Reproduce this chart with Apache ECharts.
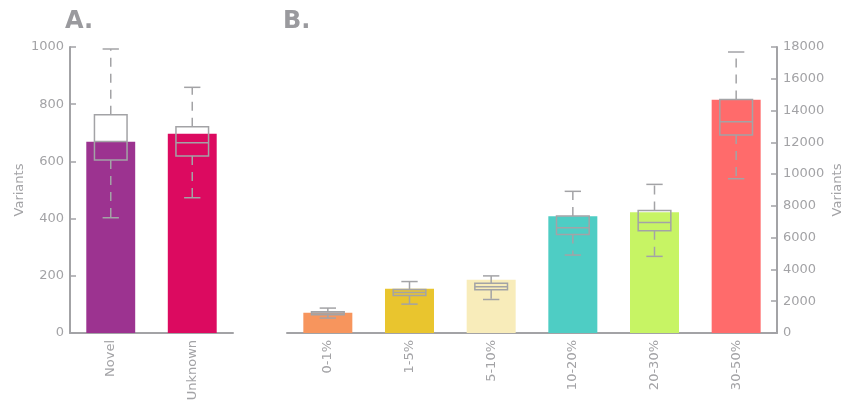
<!DOCTYPE html>
<html>
<head>
<meta charset="utf-8">
<script src="https://cdn.jsdelivr.net/npm/echarts@6/dist/echarts.min.js"></script>
<style>
  html, body { margin: 0; padding: 0; background: #fff; }
  #chart { width: 844px; height: 405px; }
</style>
</head>
<body>
<div id="chart"></div>
<script>
// Panel A: variant counts by annotation status
const categoriesA = ['Novel', 'Unknown'];
const barsA = [669, 697];
const colorsA = ['#9c3390', '#dc0a60'];
const minA = [403, 473];
const q1A = [605, 619];
const medianA = [670, 665];
const q3A = [763, 721];
const maxA = [993, 859];
const ticksA = { min: 0, max: 1000, interval: 200 };

// Panel B: variant counts by allele frequency bin
const categoriesB = ['0-1%', '1-5%', '5-10%', '10-20%', '20-30%', '30-50%'];
const barsB = [1275, 2780, 3345, 7350, 7600, 14680];
const colorsB = ['#f7955d', '#e9c52e', '#f8ecba', '#4ecdc4', '#c7f464', '#ff6b6b'];
const minB = [941, 1818, 2108, 4907, 4823, 9709];
const q1B = [1150, 2360, 2716, 6202, 6431, 12465];
const medianB = [1254, 2548, 2905, 6619, 6953, 13301];
const q3B = [1338, 2736, 3136, 7371, 7705, 14700];
const maxB = [1568, 3238, 3594, 8916, 9354, 17685];
const ticksB = { min: 0, max: 18000, interval: 2000 };

const GRAY = '#a3a3a6';
const FONT = 'DejaVu Sans';

function boxRows(mins, q1s, meds, q3s, maxs) {
  return mins.map((m, i) => [i, m, q1s[i], meds[i], q3s[i], maxs[i]]);
}

// Box with dashed whiskers and solid caps
function renderBox(params, api) {
  const idx = api.value(0);
  const pMin = api.coord([idx, api.value(1)]);
  const pQ1 = api.coord([idx, api.value(2)]);
  const pMed = api.coord([idx, api.value(3)]);
  const pQ3 = api.coord([idx, api.value(4)]);
  const pMax = api.coord([idx, api.value(5)]);
  const band = api.size([1, 0])[0];
  const hw = band * 0.2;
  const cw = band * 0.1;
  const x = pMed[0];
  const solid = { stroke: GRAY, lineWidth: 1.5, fill: null };
  const dashed = { stroke: GRAY, lineWidth: 1.5, lineDash: [9, 7] };
  return {
    type: 'group',
    children: [
      { type: 'line', shape: { x1: x, y1: pQ3[1], x2: x, y2: pMax[1] }, style: dashed },
      { type: 'line', shape: { x1: x, y1: pQ1[1], x2: x, y2: pMin[1] }, style: dashed },
      { type: 'line', shape: { x1: x - cw, y1: pMax[1], x2: x + cw, y2: pMax[1] }, style: solid },
      { type: 'line', shape: { x1: x - cw, y1: pMin[1], x2: x + cw, y2: pMin[1] }, style: solid },
      { type: 'rect', shape: { x: x - hw, y: pQ3[1], width: hw * 2, height: pQ1[1] - pQ3[1] }, style: solid },
      { type: 'line', shape: { x1: x - hw, y1: pMed[1], x2: x + hw, y2: pMed[1] }, style: solid }
    ]
  };
}

function catAxis(gridIndex, data) {
  return {
    type: 'category', gridIndex, data,
    axisLine: { lineStyle: { color: GRAY, width: 2 } },
    axisTick: { inside: true, length: 6, alignWithLabel: true, lineStyle: { color: GRAY, width: 1.5 } },
    axisLabel: { rotate: 90, color: GRAY, fontFamily: FONT, fontSize: 13, margin: 7 },
    splitLine: { show: false }
  };
}

function valAxis(gridIndex, ticks, position) {
  return {
    type: 'value', gridIndex, position,
    min: ticks.min, max: ticks.max, interval: ticks.interval,
    name: 'Variants', nameLocation: 'middle', nameGap: position === 'left' ? 44 : 54,
    nameMoveOverlap: false,
    nameTextStyle: { color: GRAY, fontFamily: FONT, fontSize: 13 },
    axisLine: { show: true, lineStyle: { color: GRAY, width: 2 } },
    axisTick: { show: true, inside: true, length: 6, lineStyle: { color: GRAY, width: 1.5 } },
    axisLabel: { color: GRAY, fontFamily: FONT, fontSize: 13, margin: 6, formatter: v => String(v) },
    splitLine: { show: false }
  };
}

const chart = echarts.init(document.getElementById('chart'), null, { renderer: 'canvas' });
chart.setOption({
  animation: false,
  backgroundColor: '#ffffff',
  title: [
    { text: 'A.', left: 60, top: 5, textStyle: { color: '#9a9a9e', fontFamily: FONT, fontWeight: 'bold', fontSize: 24 } },
    { text: 'B.', left: 278, top: 5, textStyle: { color: '#9a9a9e', fontFamily: FONT, fontWeight: 'bold', fontSize: 24 } }
  ],
  grid: [
    { left: 70, right: 611, top: 47, bottom: 72, outerBoundsMode: 'none' },
    { left: 287, right: 67, top: 47, bottom: 72, outerBoundsMode: 'none' }
  ],
  xAxis: [catAxis(0, categoriesA), catAxis(1, categoriesB)],
  yAxis: [valAxis(0, ticksA, 'left'), valAxis(1, ticksB, 'right')],
  series: [
    {
      type: 'bar', xAxisIndex: 0, yAxisIndex: 0, barWidth: '60%',
      data: barsA.map((v, i) => ({ value: v, itemStyle: { color: colorsA[i] } }))
    },
    {
      type: 'custom', xAxisIndex: 0, yAxisIndex: 0, renderItem: renderBox,
      encode: { x: 0, y: [1, 2, 3, 4, 5] }, z: 5,
      data: boxRows(minA, q1A, medianA, q3A, maxA)
    },
    {
      type: 'bar', xAxisIndex: 1, yAxisIndex: 1, barWidth: '60%',
      data: barsB.map((v, i) => ({ value: v, itemStyle: { color: colorsB[i] } }))
    },
    {
      type: 'custom', xAxisIndex: 1, yAxisIndex: 1, renderItem: renderBox,
      encode: { x: 0, y: [1, 2, 3, 4, 5] }, z: 5,
      data: boxRows(minB, q1B, medianB, q3B, maxB)
    }
  ]
});
</script>
</body>
</html>
